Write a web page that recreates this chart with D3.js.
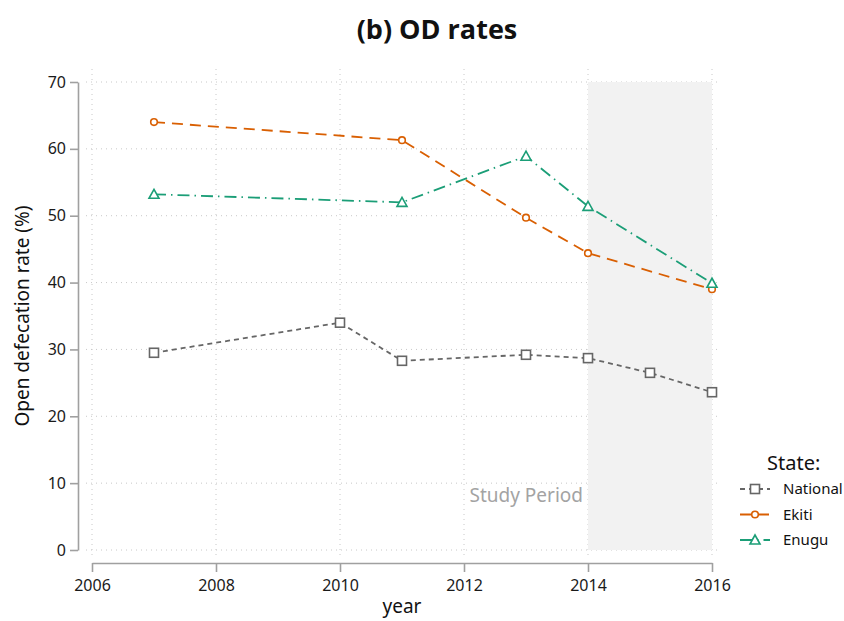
<!DOCTYPE html>
<html>
<head>
<meta charset="utf-8">
<script src="https://cdn.jsdelivr.net/npm/d3@7"></script>
<style>
  body { margin: 0; background: #fff; }
  svg { display: block; font-family: "Noto Sans", sans-serif; }
</style>
</head>
<body>
<svg id="chart" width="844" height="621"></svg>
<script>
"use strict";

// data
const nationalYears = [2007, 2010, 2011, 2013, 2014, 2015, 2016];
const nationalRates = [29.5, 34.0, 28.3, 29.2, 28.7, 26.5, 23.6];
const ekitiYears = [2007, 2011, 2013, 2014, 2016];
const ekitiRates = [64.0, 61.3, 49.7, 44.4, 39.0];
const enuguYears = [2007, 2011, 2013, 2014, 2016];
const enuguRates = [53.2, 52.0, 58.9, 51.4, 39.9];
const xTicks = [2006, 2008, 2010, 2012, 2014, 2016];
const yTicks = [0, 10, 20, 30, 40, 50, 60, 70];
const studyPeriod = [2014, 2016];

const series = [
  { name: "National", years: nationalYears, rates: nationalRates, color: "#666666", dash: "5,4", shape: "square" },
  { name: "Ekiti", years: ekitiYears, rates: ekitiRates, color: "#D95F02", dash: "11,7", shape: "circle" },
  { name: "Enugu", years: enuguYears, rates: enuguRates, color: "#1B9E77", dash: "12,5,1.5,5", shape: "triangle" }
];

const svg = d3.select("#chart");
const x = d3.scaleLinear().domain([2006, 2016]).range([92, 712]);
const y = d3.scaleLinear().domain([0, 70]).range([550, 82]);
const panel = { left: 86, right: 718, top: 69, bottom: 559 };

// grid
const grid = svg.append("g").attr("stroke", "#c8c8c8").attr("stroke-width", 1)
  .attr("stroke-dasharray", "1,4");
grid.selectAll(".gy").data(yTicks).join("line")
  .attr("x1", panel.left).attr("x2", panel.right)
  .attr("y1", d => y(d)).attr("y2", d => y(d));
grid.selectAll(".gx").data(xTicks).join("line")
  .attr("y1", panel.top).attr("y2", panel.bottom)
  .attr("x1", d => x(d)).attr("x2", d => x(d));

// study period shading
svg.append("rect")
  .attr("x", x(studyPeriod[0])).attr("width", x(studyPeriod[1]) - x(studyPeriod[0]))
  .attr("y", y(70)).attr("height", y(0) - y(70))
  .attr("fill", "#f2f2f2");

svg.append("text")
  .attr("x", x(studyPeriod[0]) - 5).attr("y", 502)
  .attr("text-anchor", "end")
  .attr("font-size", 19).attr("fill", "#a3a3a3")
  .text("Study Period");

// axes
const yAxis = svg.append("g").attr("transform", "translate(78,0)")
  .call(d3.axisLeft(y).tickValues(yTicks).tickSize(8).tickPadding(4).tickSizeOuter(0));
const xAxis = svg.append("g").attr("transform", "translate(0,563)")
  .call(d3.axisBottom(x).tickValues(xTicks).tickFormat(d3.format("d")).tickSize(9).tickPadding(8).tickSizeOuter(0));
[yAxis, xAxis].forEach(ax => {
  ax.select(".domain").attr("stroke", "#a0a0a0").attr("stroke-width", 1.6);
  ax.selectAll(".tick line").attr("stroke", "#a0a0a0").attr("stroke-width", 1.6);
  ax.selectAll(".tick text").attr("font-size", 16).attr("fill", "#1a1a1a")
    .attr("font-family", "Noto Sans, sans-serif");
});

svg.append("text")
  .attr("x", x(2011)).attr("y", 613)
  .attr("text-anchor", "middle").attr("font-size", 19).attr("fill", "#111")
  .text("year");
svg.append("text")
  .attr("transform", "translate(29," + y(35) + ") rotate(-90)")
  .attr("text-anchor", "middle").attr("font-size", 19).attr("fill", "#111")
  .text("Open defecation rate (%)");

svg.append("text")
  .attr("x", 437).attr("y", 39)
  .attr("text-anchor", "middle").attr("font-size", 27).attr("font-weight", "bold")
  .attr("font-family", "Open Sans, sans-serif").attr("fill", "#111")
  .text("(b) OD rates");

function drawMarker(g, shape, color, cx, cy) {
  if (shape === "square") {
    g.append("rect").attr("x", cx - 4.5).attr("y", cy - 4.5).attr("width", 9).attr("height", 9)
      .attr("fill", "#fff").attr("stroke", color).attr("stroke-width", 1.6);
  } else if (shape === "circle") {
    g.append("circle").attr("cx", cx).attr("cy", cy).attr("r", 3.3)
      .attr("fill", "#fff").attr("stroke", color).attr("stroke-width", 1.6);
  } else {
    g.append("path")
      .attr("d", "M" + cx + "," + (cy - 5) + "L" + (cx + 5) + "," + (cy + 4) + "L" + (cx - 5) + "," + (cy + 4) + "Z")
      .attr("fill", "#fff").attr("stroke", color).attr("stroke-width", 1.6);
  }
}

const line = d3.line().x(d => x(d[0])).y(d => y(d[1]));
series.forEach(s => {
  const pts = s.years.map((yr, i) => [yr, s.rates[i]]);
  const g = svg.append("g");
  g.append("path").datum(pts).attr("d", line)
    .attr("fill", "none").attr("stroke", s.color).attr("stroke-width", 1.8)
    .attr("stroke-dasharray", s.dash);
  pts.forEach(p => drawMarker(g, s.shape, s.color, x(p[0]), y(p[1])));
});

// legend
const legend = svg.append("g");
legend.append("text").attr("x", 767).attr("y", 470).attr("font-size", 20).attr("fill", "#111")
  .text("State:");
series.forEach((s, i) => {
  const ly = 489 + i * 25.5;
  const lg = legend.append("g");
  lg.append("line").attr("x1", 740).attr("x2", 770).attr("y1", ly).attr("y2", ly)
    .attr("stroke", s.color).attr("stroke-width", 1.8).attr("stroke-dasharray", s.dash);
  drawMarker(lg, s.shape, s.color, 755, ly);
  lg.append("text").attr("x", 783).attr("y", ly + 5).attr("font-size", 15).attr("fill", "#111")
    .text(s.name);
});
</script>
</body>
</html>
